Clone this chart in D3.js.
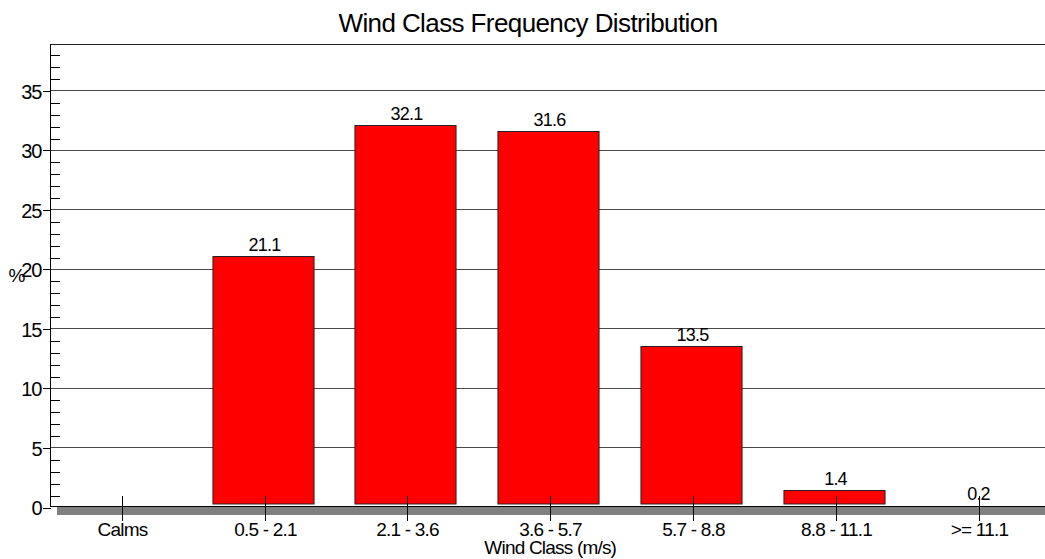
<!DOCTYPE html>
<html>
<head>
<meta charset="utf-8">
<script src="https://cdn.jsdelivr.net/npm/d3@7"></script>
<style>
  body { margin: 0; background: #fff; }
  svg { display: block; }
  text { font-family: "Liberation Sans", Arial, sans-serif; fill: #000; }
  .grid-line line { stroke: #4a4a4a; stroke-width: 1; shape-rendering: crispEdges; }
  .axis path { display: none; }
  .axis line { stroke: #000; shape-rendering: crispEdges; }
</style>
</head>
<body>
<div id="canvas"></div>
<script>
// DATA
const categories = ["Calms", "0.5 - 2.1", "2.1 - 3.6", "3.6 - 5.7", "5.7 - 8.8", "8.8 - 11.1", ">= 11.1"];
const values = [0, 21.1, 32.1, 31.6, 13.5, 1.4, 0.2];
const yTickValues = [0, 5, 10, 15, 20, 25, 30, 35];
const yMinorValues = [1, 2, 3, 4, 6, 7, 8, 9, 11, 12, 13, 14, 16, 17, 18, 19, 21, 22, 23, 24, 26, 27, 28, 29, 31, 32, 33, 34, 36, 37, 38];

const title = "Wind Class Frequency Distribution";
const xTitle = "Wind Class (m/s)";
const yTitle = "%";

// DIMENSIONS
const width = 1045;
const height = 559;
const plot = { left: 50.5, right: 1050, top: 44, bottom: 507 };

const data = categories.map((c, i) => ({ cat: c, value: values[i] }));

// CANVAS
const svg = d3.select("#canvas")
  .append("svg")
  .attr("width", width)
  .attr("height", height);

// SCALES
const x = d3.scaleBand()
  .domain(categories)
  .range([plot.left, plot.right])
  .padding(0);

const y = d3.scaleLinear()
  .domain([0, 38.9])
  .range([plot.bottom, plot.top]);

const cx = d => Math.round(x(d) + x.bandwidth() / 2) + 0.5;
const barW = x.bandwidth() * 0.708;

// GRID
svg.append("g")
  .attr("class", "grid-line")
  .selectAll("line")
  .data(yTickValues.filter(v => v > 0))
  .join("line")
  .attr("x1", plot.left)
  .attr("x2", width)
  .attr("y1", d => Math.round(y(d)) + 0.5)
  .attr("y2", d => Math.round(y(d)) + 0.5);

// TOP BORDER
svg.append("line")
  .attr("x1", plot.left).attr("x2", width)
  .attr("y1", plot.top + 0.5).attr("y2", plot.top + 0.5)
  .attr("stroke", "#222")
  .attr("shape-rendering", "crispEdges");

// FLOOR
svg.append("rect")
  .attr("x", 57)
  .attr("y", y(0))
  .attr("width", width - 57)
  .attr("height", 8)
  .attr("fill", "#808080");

// BARS
svg.append("g")
  .selectAll("rect")
  .data(data.filter(d => d.value > 0.5))
  .join("rect")
  .attr("x", d => cx(d.cat) - 2 - barW / 2)
  .attr("y", d => Math.round(y(d.value)) + 0.5)
  .attr("width", barW)
  .attr("height", d => (y(0) - 3) - Math.round(y(d.value)) - 0.5)
  .attr("fill", "#ff0000")
  .attr("stroke", "#222")
  .attr("stroke-width", 1);

// BAR LABELS
svg.append("g")
  .selectAll("text")
  .data(data.filter(d => d.value > 0))
  .join("text")
  .attr("x", d => cx(d.cat) - 1)
  .attr("y", d => y(d.value) - 5)
  .attr("text-anchor", "middle")
  .style("font-size", "18px")
  .style("letter-spacing", "-0.8px")
  .text(d => d.value.toFixed(1));

// Y AXIS
const yAxis = d3.axisLeft(y)
  .tickValues(yTickValues)
  .tickSize(8)
  .tickPadding(1)
  .tickFormat(d3.format("d"));

const yAxisHolder = svg.append("g")
  .attr("class", "axis")
  .attr("transform", `translate(${plot.left},0.5)`)
  .call(yAxis);

yAxisHolder.selectAll("text")
  .style("font-size", "20px")
  .style("letter-spacing", "-1px")
  .attr("dy", "0.36em");

const yMinor = d3.axisRight(y)
  .tickValues(yMinorValues)
  .tickSize(9)
  .tickFormat("");

svg.append("g")
  .attr("class", "axis minor")
  .attr("transform", `translate(${plot.left},0.5)`)
  .call(yMinor)
  .selectAll("line")
  .attr("stroke", "#555");

svg.append("line")
  .attr("x1", plot.left).attr("x2", plot.left)
  .attr("y1", plot.top).attr("y2", y(0))
  .attr("stroke", "#000")
  .attr("shape-rendering", "crispEdges");

// X AXIS
svg.append("line")
  .attr("x1", plot.left).attr("x2", width)
  .attr("y1", y(0) - 0.5).attr("y2", y(0) - 0.5)
  .attr("stroke", "#000")
  .attr("shape-rendering", "crispEdges");

svg.append("g")
  .selectAll("line")
  .data(categories)
  .join("line")
  .attr("x1", d => cx(d))
  .attr("x2", d => cx(d))
  .attr("y1", 496)
  .attr("y2", 521)
  .attr("stroke", "#000")
  .attr("shape-rendering", "crispEdges");

svg.append("g")
  .selectAll("text")
  .data(categories)
  .join("text")
  .attr("x", d => cx(d))
  .attr("y", 536)
  .attr("text-anchor", "middle")
  .style("font-size", "19px")
  .style("letter-spacing", "-0.8px")
  .text(d => d);

// LABELS
svg.append("text")
  .attr("x", 528)
  .attr("y", 32)
  .attr("text-anchor", "middle")
  .style("font-size", "26px")
  .style("letter-spacing", "-0.6px")
  .text(title);

svg.append("text")
  .attr("x", (plot.left + plot.right) / 2)
  .attr("y", 554)
  .attr("text-anchor", "middle")
  .style("font-size", "19px")
  .style("letter-spacing", "-0.8px")
  .text(xTitle);

svg.append("text")
  .attr("x", 17)
  .attr("y", 282)
  .attr("text-anchor", "middle")
  .style("font-size", "19px")
  .text(yTitle);
</script>
</body>
</html>
